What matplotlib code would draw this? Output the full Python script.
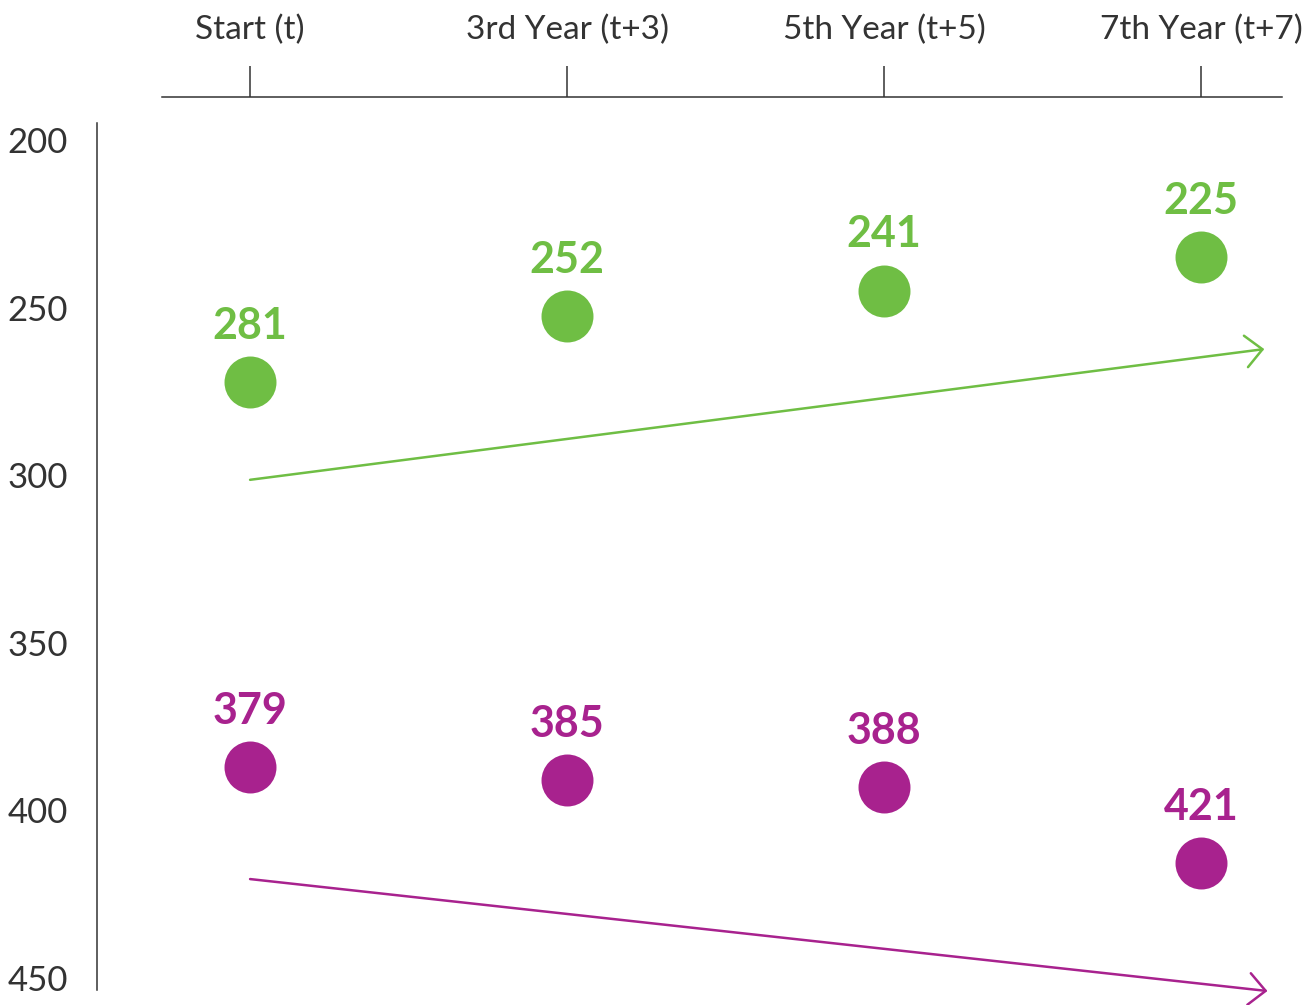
import matplotlib.pyplot as plt

plt.rcParams['font.family'] = ['Lato', 'DejaVu Sans']

# Data
categories = ["Start (t)", "3rd Year (t+3)", "5th Year (t+5)", "7th Year (t+7)"]
green_labels = [281, 252, 241, 225]
green_pos = [272.2, 252.5, 245.0, 234.9]      # where the dots sit on the axis
magenta_labels = [379, 385, 388, 421]
magenta_pos = [387.1, 390.9, 393.0, 415.7]
green_trend = [(0, 301.4), (3.2, 262.4)]
magenta_trend = [(0, 420.5), (3.21, 453.9)]
yticks = [200, 250, 300, 350, 400, 450]

GREEN = "#6FBE44"
MAGENTA = "#A8228E"
TEXT = "#333333"

fig = plt.figure(figsize=(13.16, 10.05), dpi=100)
ax = fig.add_axes([0.0737, 0.0149, 0.9005, 0.8886])

x = list(range(len(categories)))

ax.scatter(x, green_pos, s=1400, color=GREEN, linewidths=0, zorder=3)
ax.scatter(x, magenta_pos, s=1400, color=MAGENTA, linewidths=0, zorder=3)

for xi, yi, lab in zip(x, green_pos, green_labels):
    ax.annotate(str(lab), (xi, yi), xytext=(0, 40.5), textcoords="offset points",
                ha="center", va="center", fontsize=31, fontweight="bold", color=GREEN)
for xi, yi, lab in zip(x, magenta_pos, magenta_labels):
    ax.annotate(str(lab), (xi, yi), xytext=(0, 40.5), textcoords="offset points",
                ha="center", va="center", fontsize=31, fontweight="bold", color=MAGENTA)

# trend arrows
for (start, end), col in [(green_trend, GREEN), (magenta_trend, MAGENTA)]:
    ax.annotate("", xy=end, xytext=start,
                arrowprops=dict(arrowstyle="->,head_length=1.0,head_width=0.95",
                                color=col, lw=1.8, mutation_scale=12,
                                shrinkA=0, shrinkB=0),
                annotation_clip=False)

ax.set_xlim(-0.483, 3.256)
ax.set_ylim(453.6, 187.2)

ax.xaxis.tick_top()
ax.set_xticks(x)
ax.set_xticklabels(categories, fontsize=24, color=TEXT)
ax.tick_params(axis="x", length=22, width=1.1, color=TEXT, pad=15, direction="out")

ax.set_yticks(yticks)
ax.set_yticklabels([str(v) for v in yticks], fontsize=25, color=TEXT)
ax.tick_params(axis="y", length=0, pad=21)

for side in ["right", "bottom"]:
    ax.spines[side].set_visible(False)
ax.spines["top"].set_bounds(-0.278, 3.256)
ax.spines["left"].set_bounds(194.9, 453.6)
for side in ["top", "left"]:
    ax.spines[side].set_linewidth(1.1)
    ax.spines[side].set_color(TEXT)

fig.savefig("out.png", dpi=100)
